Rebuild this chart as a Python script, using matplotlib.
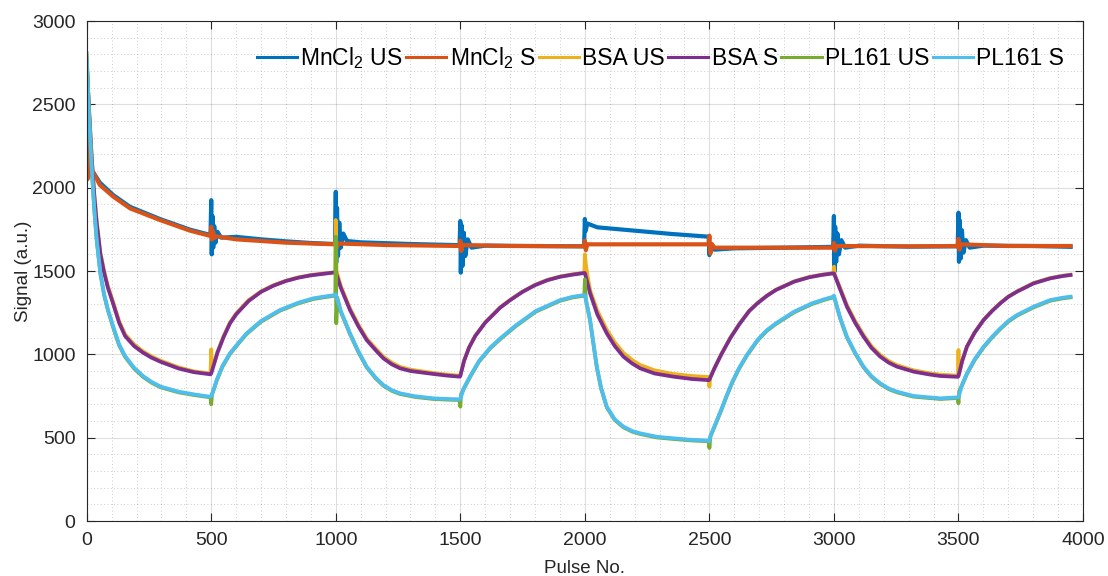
import numpy as np
import matplotlib
matplotlib.use("Agg")
import matplotlib.pyplot as plt
from matplotlib.ticker import MultipleLocator

plt.rcParams['font.family'] = ['Liberation Sans', 'DejaVu Sans']
plt.rcParams['mathtext.fontset'] = 'custom'
plt.rcParams['mathtext.rm'] = 'Liberation Sans'

# (pulse no., signal); each series is a list of nodes
mncl2_us = [(0, 2150), (25, 2095), (53, 2030), (107, 1955), (174, 1885), (294, 1812), (415, 1748), (482, 1722),
            (497, 1715), (500, 1925), (502, 1600), (505, 1830), (508, 1640), (512, 1770), (517, 1670), (525, 1735),
            (540, 1700), (600, 1705), (700, 1690), (800, 1678), (900, 1668), (997, 1662),
            (1000, 1975), (1002, 1550), (1005, 1880), (1009, 1590), (1014, 1790), (1020, 1640), (1030, 1725),
            (1045, 1680), (1100, 1672), (1300, 1662), (1497, 1655),
            (1500, 1800), (1502, 1490), (1505, 1775), (1509, 1530), (1514, 1730), (1520, 1590), (1530, 1690),
            (1545, 1640), (1600, 1652), (1800, 1650), (1997, 1648),
            (2000, 1812), (2003, 1740), (2010, 1785), (2050, 1762), (2200, 1742), (2350, 1722), (2497, 1706),
            (2500, 1595), (2505, 1660), (2520, 1628), (2600, 1636), (2800, 1640), (2997, 1645),
            (3000, 1830), (3002, 1495), (3005, 1765), (3009, 1555), (3014, 1725), (3020, 1600), (3030, 1685),
            (3045, 1640), (3100, 1652), (3300, 1646), (3497, 1648),
            (3500, 1850), (3502, 1555), (3505, 1805), (3509, 1575), (3514, 1745), (3520, 1610), (3530, 1685),
            (3545, 1640), (3600, 1652), (3800, 1650), (3950, 1645)]

mncl2_s = [(0, 2300), (3, 2050), (6, 2280), (10, 2070), (14, 2210), (20, 2100), (25, 2095), (53, 2016),
           (107, 1946), (174, 1876), (294, 1806), (415, 1742), (482, 1716), (497, 1710), (500, 1765), (503, 1688),
           (507, 1740), (512, 1698), (520, 1708), (600, 1690), (800, 1670), (997, 1660), (1000, 1700),
           (1004, 1640), (1010, 1665), (1200, 1656), (1497, 1650), (1500, 1682), (1504, 1620), (1510, 1656),
           (1700, 1650), (1997, 1648), (2000, 1682), (2004, 1625), (2010, 1660), (2200, 1660), (2497, 1660),
           (2500, 1712), (2504, 1605), (2510, 1662), (2520, 1640), (2700, 1640), (2997, 1640), (3000, 1668),
           (3004, 1622), (3010, 1650), (3300, 1648), (3497, 1650), (3500, 1692), (3504, 1628), (3510, 1660),
           (3700, 1650), (3950, 1650)]

bsa_us = [(0, 2760), (10, 2460), (20, 2190), (30, 1970), (40, 1800), (55, 1610), (70, 1500), (85, 1410),
          (107, 1310), (130, 1200), (154, 1120), (190, 1060), (226, 1018), (260, 988), (297, 962), (369, 922),
          (430, 898), (497, 885), (500, 1030), (502, 930), (510, 940), (525, 1015), (550, 1110), (575, 1190),
          (600, 1245), (650, 1325), (700, 1378), (750, 1415), (800, 1442), (850, 1462), (900, 1476), (950, 1485),
          (998, 1492), (1000, 1806), (1003, 1500), (1020, 1410), (1057, 1275), (1090, 1180), (1124, 1095),
          (1160, 1035), (1191, 986), (1225, 950), (1258, 925), (1300, 908), (1392, 888), (1450, 878), (1498, 872),
          (1500, 875), (1515, 962), (1535, 1042), (1560, 1112), (1600, 1192), (1660, 1282), (1700, 1327),
          (1750, 1377), (1800, 1417), (1850, 1447), (1900, 1467), (1950, 1480), (1998, 1490), (2000, 1600),
          (2004, 1540), (2012, 1460), (2021, 1385), (2050, 1262), (2088, 1148), (2120, 1072), (2155, 1008),
          (2190, 966), (2222, 936), (2280, 904), (2356, 882), (2430, 870), (2498, 864), (2500, 806), (2503, 860),
          (2520, 917), (2548, 1002), (2585, 1102), (2620, 1182), (2660, 1262), (2693, 1308), (2730, 1352),
          (2767, 1388), (2840, 1438), (2900, 1464), (2950, 1478), (2998, 1488), (3000, 1526), (3003, 1480),
          (3025, 1398), (3052, 1296), (3085, 1200), (3119, 1116), (3150, 1050), (3186, 996), (3220, 960),
          (3253, 935), (3320, 904), (3380, 888), (3427, 878), (3498, 872), (3500, 1026), (3502, 880),
          (3515, 962), (3534, 1048), (3565, 1132), (3601, 1208), (3635, 1262), (3668, 1308), (3700, 1347),
          (3735, 1378), (3802, 1428), (3869, 1458), (3920, 1472), (3950, 1478)]

bsa_s = [(0, 2750), (10, 2450), (20, 2180), (30, 1960), (40, 1790), (55, 1600), (70, 1490), (85, 1400),
         (107, 1300), (130, 1190), (154, 1110), (190, 1050), (226, 1010), (260, 980), (297, 955), (369, 915),
         (430, 893), (497, 880), (500, 885), (510, 935), (525, 1010), (550, 1105), (575, 1185), (600, 1240),
         (650, 1320), (700, 1375), (750, 1412), (800, 1440), (850, 1460), (900, 1474), (950, 1483), (998, 1492),
         (1000, 1492), (1020, 1400), (1057, 1266), (1090, 1170), (1124, 1086), (1160, 1025), (1191, 976),
         (1225, 940), (1258, 916), (1300, 900), (1392, 882), (1450, 872), (1498, 866), (1500, 870), (1515, 960),
         (1535, 1040), (1560, 1110), (1600, 1190), (1660, 1280), (1700, 1325), (1750, 1375), (1800, 1415),
         (1850, 1445), (1900, 1465), (1950, 1478), (1998, 1488), (2000, 1488), (2021, 1366), (2050, 1240),
         (2088, 1126), (2120, 1050), (2155, 986), (2190, 945), (2222, 916), (2280, 885), (2356, 866),
         (2430, 852), (2498, 845), (2500, 848), (2520, 915), (2548, 1000), (2585, 1100), (2620, 1180),
         (2660, 1260), (2693, 1306), (2730, 1350), (2767, 1386), (2840, 1436), (2900, 1462), (2950, 1476),
         (2998, 1486), (3000, 1486), (3025, 1390), (3052, 1286), (3085, 1190), (3119, 1106), (3150, 1040),
         (3186, 986), (3220, 950), (3253, 926), (3320, 896), (3380, 880), (3427, 870), (3498, 865), (3500, 870),
         (3515, 960), (3534, 1046), (3565, 1130), (3601, 1206), (3635, 1260), (3668, 1306), (3700, 1345),
         (3735, 1376), (3802, 1426), (3869, 1456), (3920, 1470), (3950, 1476)]

pl161_us = [(0, 2806), (10, 2425), (20, 2118), (30, 1875), (40, 1685), (55, 1482), (70, 1355), (85, 1265),
            (107, 1158), (130, 1055), (154, 985), (190, 915), (226, 865), (260, 830), (297, 802), (369, 772),
            (430, 756), (497, 742), (500, 700), (503, 760), (510, 788), (522, 842), (545, 926), (575, 1002),
            (610, 1066), (642, 1122), (700, 1196), (776, 1262), (850, 1306), (910, 1332), (960, 1344), (998, 1352),
            (1000, 1706), (1002, 1186), (1006, 1340), (1020, 1256), (1057, 1122), (1090, 1016), (1124, 922),
            (1160, 856), (1191, 812), (1225, 781), (1258, 762), (1320, 744), (1392, 732), (1450, 728),
            (1498, 726), (1500, 686), (1503, 760), (1515, 796), (1540, 866), (1575, 956), (1620, 1036),
            (1660, 1091), (1720, 1166), (1803, 1256), (1900, 1321), (1950, 1341), (1998, 1352), (2000, 1450),
            (2004, 1330), (2021, 1202), (2035, 1056), (2048, 922), (2065, 796), (2088, 682), (2120, 606),
            (2155, 562), (2190, 536), (2222, 522), (2290, 501), (2356, 492), (2420, 484), (2498, 478),
            (2500, 438), (2504, 506), (2525, 581), (2548, 666), (2570, 751), (2592, 831), (2620, 916), (2650, 991),
            (2693, 1082), (2730, 1140), (2767, 1182), (2840, 1252), (2912, 1302), (2960, 1326), (2998, 1342),
            (3000, 1348), (3025, 1216), (3052, 1102), (3085, 1006), (3119, 922), (3150, 866), (3186, 822),
            (3220, 791), (3253, 772), (3320, 746), (3427, 732), (3498, 738), (3500, 706), (3503, 780),
            (3515, 816), (3534, 882), (3565, 966), (3601, 1042), (3635, 1101), (3668, 1152), (3700, 1196),
            (3735, 1232), (3802, 1282), (3869, 1322), (3920, 1336), (3950, 1342)]

pl161_s = [(0, 2776), (10, 2420), (20, 2120), (30, 1880), (40, 1690), (55, 1488), (70, 1360), (85, 1270),
           (107, 1164), (130, 1060), (154, 990), (190, 920), (226, 870), (260, 835), (297, 806), (369, 776),
           (430, 760), (497, 745), (500, 748), (510, 790), (522, 846), (545, 930), (575, 1006), (610, 1070),
           (642, 1126), (700, 1200), (776, 1266), (850, 1310), (910, 1336), (960, 1348), (998, 1356),
           (1000, 1360), (1020, 1260), (1057, 1126), (1090, 1020), (1124, 926), (1160, 860), (1191, 816),
           (1225, 785), (1258, 766), (1320, 748), (1392, 736), (1450, 732), (1498, 730), (1500, 732), (1515, 800),
           (1540, 870), (1575, 960), (1620, 1040), (1660, 1095), (1720, 1170), (1803, 1260), (1900, 1325),
           (1950, 1345), (1998, 1356), (2000, 1356), (2021, 1206), (2035, 1060), (2048, 926), (2065, 800),
           (2088, 686), (2120, 610), (2155, 566), (2190, 540), (2222, 526), (2290, 505), (2356, 496), (2420, 488),
           (2498, 482), (2500, 478), (2504, 510), (2525, 585), (2548, 670), (2570, 755), (2592, 835), (2620, 920),
           (2650, 995), (2693, 1086), (2730, 1144), (2767, 1186), (2840, 1256), (2912, 1306), (2960, 1330),
           (2998, 1346), (3000, 1352), (3025, 1220), (3052, 1106), (3085, 1010), (3119, 926), (3150, 870),
           (3186, 826), (3220, 795), (3253, 776), (3320, 750), (3427, 736), (3498, 742), (3500, 742), (3515, 820),
           (3534, 886), (3565, 970), (3601, 1046), (3635, 1105), (3668, 1156), (3700, 1200), (3735, 1236),
           (3802, 1286), (3869, 1326), (3920, 1340), (3950, 1346)]

series = [(mncl2_us, r'MnCl$_\mathregular{2}$ US', '#0072BD', 3.0),
          (mncl2_s, r'MnCl$_\mathregular{2}$ S', '#D95319', 3.0),
          (bsa_us, 'BSA US', '#EDB120', 2.7),
          (bsa_s, 'BSA S', '#7E2F8E', 2.7),
          (pl161_us, 'PL161 US', '#77AC30', 2.7),
          (pl161_s, 'PL161 S', '#4DBEEE', 2.7)]

fig = plt.figure(figsize=(11.08, 5.76), dpi=100)
ax = fig.add_axes([86.7 / 1108, 1 - 521 / 576, (1083 - 86.7) / 1108, 500 / 576])

for data, label, color, lw in series:
    arr = np.array(data)
    ax.plot(arr[:, 0], arr[:, 1], color=color, lw=lw, label=label, solid_joinstyle='round')

ax.set_xlim(0, 4000)
ax.set_ylim(0, 3000)
ax.xaxis.set_major_locator(MultipleLocator(500))
ax.yaxis.set_major_locator(MultipleLocator(500))
ax.xaxis.set_minor_locator(MultipleLocator(100))
ax.yaxis.set_minor_locator(MultipleLocator(100))
ax.grid(which='major', color='#262626', alpha=0.15, lw=0.8)
ax.grid(which='minor', color='#262626', alpha=0.3, lw=0.6, ls=(0, (1, 3)))
ax.set_axisbelow(True)
ax.tick_params(which='major', direction='in', length=6, width=0.8, top=True, right=True,
               labelsize=14, colors='#262626', pad=8)
ax.tick_params(which='minor', length=0)
for sp in ax.spines.values():
    sp.set_color('#262626')
    sp.set_linewidth(0.8)

ax.set_xlabel('Pulse No.', fontsize=13.5, color='#262626', labelpad=8)
ax.set_ylabel('Signal (a.u.)', fontsize=13.5, color='#262626', labelpad=0)

leg = ax.legend(loc='upper right', ncol=6, frameon=False, fontsize=16.5, handlelength=1.75,
                handletextpad=0.15, columnspacing=0.15, bbox_to_anchor=(0.995, 0.98), borderaxespad=0.2)
for line in leg.get_lines():
    line.set_linewidth(2.2)

fig.savefig('out.png', dpi=100)
